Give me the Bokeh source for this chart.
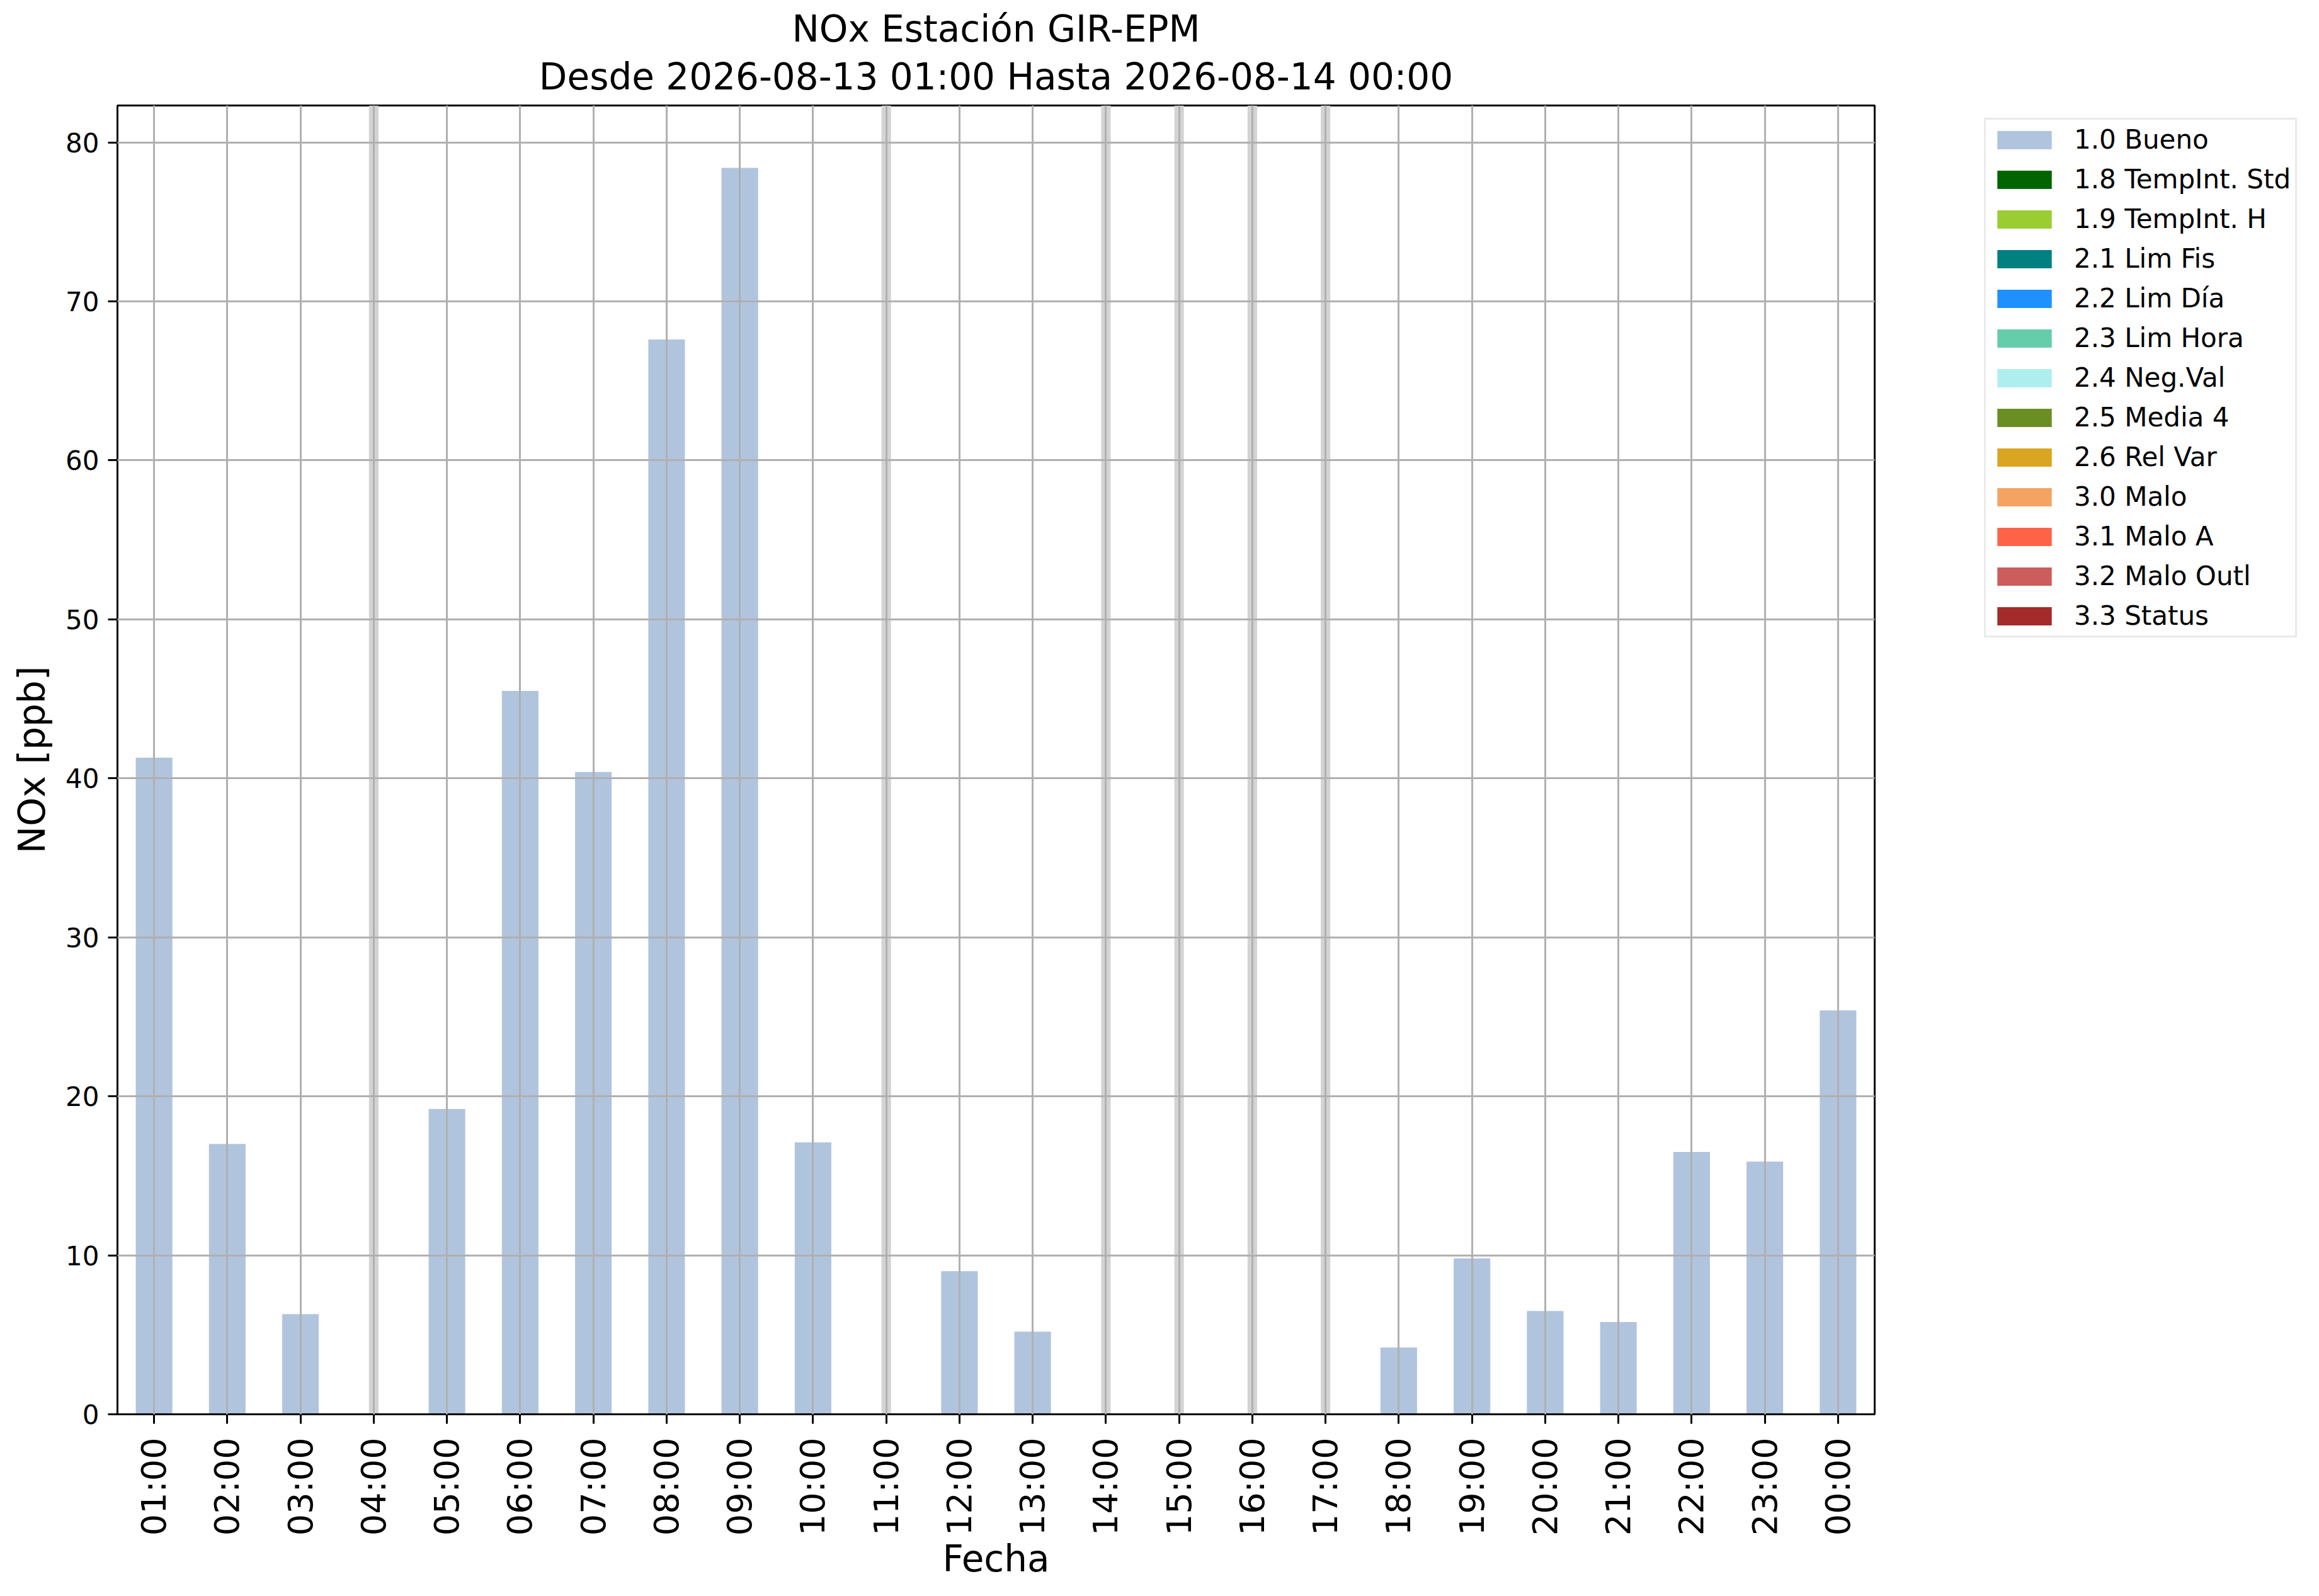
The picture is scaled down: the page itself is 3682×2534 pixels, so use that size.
import math
from bokeh.plotting import figure
from bokeh.layouts import row
from bokeh.models import (FactorRange, Range1d, ColumnDataSource, Legend, LegendItem,
                          SingleIntervalTicker, Title)
from bokeh.embed import file_html
from bokeh.resources import INLINE

# ---- data ----
title_line1 = "NOx Estación GIR-EPM"
title_line2 = "Desde 2026-08-13 01:00 Hasta 2026-08-14 00:00"
hours = ["01:00", "02:00", "03:00", "04:00", "05:00", "06:00", "07:00", "08:00",
         "09:00", "10:00", "11:00", "12:00", "13:00", "14:00", "15:00", "16:00",
         "17:00", "18:00", "19:00", "20:00", "21:00", "22:00", "23:00", "00:00"]
nox = [41.3, 17.0, 6.3, None, 19.2, 45.5, 40.4, 67.6,
       78.4, 17.1, None, 9.0, 5.2, None, None, None,
       None, 4.2, 9.8, 6.5, 5.8, 16.5, 15.9, 25.4]
flag_labels = ["1.0 Bueno", "1.8 TempInt. Std", "1.9 TempInt. H", "2.1 Lim Fis",
               "2.2 Lim Día", "2.3 Lim Hora", "2.4 Neg.Val", "2.5 Media 4",
               "2.6 Rel Var", "3.0 Malo", "3.1 Malo A", "3.2 Malo Outl", "3.3 Status"]
flag_colors = ["#b0c4de", "#006400", "#9acd32", "#008080", "#1e90ff", "#66cdaa",
               "#afeeee", "#6b8e23", "#daa520", "#f4a460", "#ff6347", "#cd5c5c", "#a52a2a"]

FONT = "DejaVu Sans"
H = 2526

valid_h = [h for h, v in zip(hours, nox) if v is not None]
valid_v = [v for v in nox if v is not None]
missing_h = [h for h, v in zip(hours, nox) if v is None]
ymax = max(valid_v) * 1.05

p = figure(x_range=FactorRange(factors=hours), y_range=Range1d(0, ymax),
           width=2986, height=H, output_backend="svg", toolbar_location=None,
           min_border_left=186, min_border_right=10, min_border_top=167,
           min_border_bottom=281)

# title: first line on top, second line closest to the frame
p.title.text = title_line1
p.title.align = "center"
p.title.text_font = FONT
p.title.text_font_size = "58px"
p.title.text_font_style = "normal"
p.title.text_color = "black"
p.title.standoff = -12
p.add_layout(Title(text=title_line2, align="center", text_font=FONT,
                   text_font_size="58px", text_font_style="normal",
                   text_color="black", standoff=24), "above")

# missing-data bands
p.vbar(x=missing_h, top=ymax, bottom=0, width=0.13, fill_color="#d3d3d3", line_color=None)

src = ColumnDataSource(dict(hour=valid_h, val=valid_v))
p.vbar(x="hour", top="val", bottom=0, width=0.5, source=src,
       fill_color=flag_colors[0], line_color=None)

# axes
p.yaxis.ticker = SingleIntervalTicker(interval=10)
for ax in (p.xaxis[0], p.yaxis[0]):
    ax.axis_line_color = "black"
    ax.axis_line_width = 3
    ax.major_tick_line_width = 3
    ax.major_tick_out = 15
    ax.major_tick_in = 0
    ax.minor_tick_line_color = None
    ax.major_label_text_font = FONT
    ax.axis_label_text_font = FONT
    ax.axis_label_text_font_size = "58px"
    ax.axis_label_text_font_style = "normal"
    ax.axis_label_text_color = "black"
    ax.major_label_text_color = "black"

p.xaxis.axis_label = "Fecha"
p.xaxis.major_label_orientation = math.pi / 2
p.xaxis.major_label_text_font_size = "54px"
p.xaxis.major_label_standoff = 22
p.xaxis.axis_label_standoff = 0

p.yaxis.axis_label = "NOx [ppb]"
p.yaxis.major_label_text_font_size = "42px"
p.yaxis.major_label_standoff = 14
p.yaxis.axis_label_standoff = 16

p.grid.grid_line_color = "#b0b0b0"
p.grid.grid_line_width = 3
p.grid.level = "overlay"

p.outline_line_color = "black"
p.outline_line_width = 3
p.background_fill_color = "white"
p.border_fill_color = "white"

# ---- legend panel (separate figure to the right) ----
pl = figure(width=688, height=H, x_range=Range1d(0, 1), y_range=Range1d(0, 1),
            output_backend="svg", toolbar_location=None, min_border=0,
            outline_line_color=None)
pl.axis.visible = False
pl.grid.visible = False

items = []
for lab, col in zip(flag_labels, flag_colors):
    # zero-height placeholder so that the legend swatch is drawn
    r = pl.vbar(x=[0], top=[0], bottom=[0], width=0.0, fill_color=col, line_color=None)
    items.append(LegendItem(label=lab, renderers=[r]))

legend = Legend(items=items, location=(164, 1233), margin=0, padding=7,
                glyph_width=108, glyph_height=36, label_standoff=25, spacing=14,
                label_text_font=FONT, label_text_font_size="42px",
                label_text_color="black",
                border_line_color="#d6d6d6", border_line_width=3,
                background_fill_color="white", background_fill_alpha=0.8)
pl.add_layout(legend, "center")

layout = row(p, pl)
open("out.html", "w").write(file_html(layout, INLINE))
